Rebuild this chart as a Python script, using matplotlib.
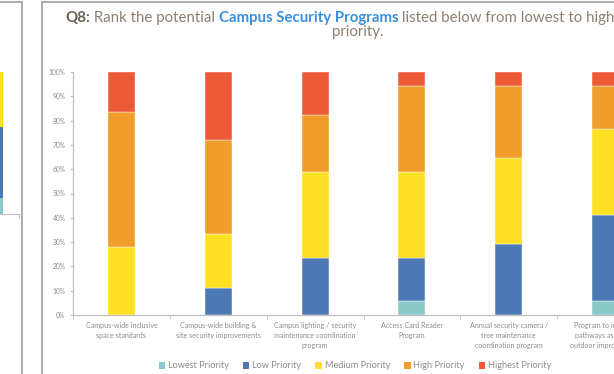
import matplotlib
matplotlib.use("Agg")
import matplotlib.pyplot as plt
from matplotlib.patches import Patch
from matplotlib.lines import Line2D
import numpy as np

W, H = 614, 374
DPI = 100

programs = [
    "Campus-wide inclusive\nspace standards",
    "Campus-wide building &\nsite security improvements",
    "Campus lighting / security\nmaintenance coordination\nprogram",
    "Access Card Reader\nProgram",
    "Annual security camera /\ntree maintenance\ncoordination program",
    "Program to improve\npathways as part of\noutdoor improvements",
]
levels = ["Lowest Priority", "Low Priority", "Medium Priority",
          "High Priority", "Highest Priority"]
colors = ["#8cc9c9", "#4c78b3", "#ffe022", "#f19d2b", "#ee5936"]

# percent of responses per priority level, one value per program
lowest = [0.0, 0.0, 0.0, 5.9, 0.0, 5.9]
low = [0.0, 11.1, 23.5, 17.6, 29.4, 35.3]
medium = [27.8, 22.2, 35.3, 35.3, 35.3, 35.3]
high = [55.6, 38.9, 23.5, 35.3, 29.4, 17.6]
highest = [16.7, 27.8, 17.6, 5.9, 5.9, 5.9]
series = [lowest, low, medium, high, highest]

# cropped neighbouring chart on the far left (one bar visible)
nb_values = [11.3, 50.0, 38.7]
nb_colors = ["#8cc9c9", "#4c78b3", "#ffe022"]

yticks = list(range(0, 101, 10))
ytick_labels = [f"{v}%" for v in yticks]

plt.rcParams["font.family"] = ["Lato", "DejaVu Sans"]
GRAY = "#8c8c8c"
AXIS = "#bfbfbf"
BORDER = "#a6a6a6"


def px(x, y):
    """top-left pixel coords -> figure fraction"""
    return x / W, 1 - y / H


fig = plt.figure(figsize=(W / DPI, H / DPI), dpi=DPI)
fig.patch.set_facecolor("white")

# panel borders
for xs, ys in [((0, 22), (2, 2)), ((22, 22), (2, 380)),
               ((42, 42), (2, 380)), ((42, 620), (2, 2))]:
    fig.add_artist(Line2D([x / W for x in xs], [1 - y / H for y in ys],
                          color=BORDER, lw=1.3, transform=fig.transFigure))

# neighbour fragment
ax0 = fig.add_axes([-41 / W, (H - 214) / H, 60 / W, 142 / H])
bottom = 0
for v, c in zip(nb_values, nb_colors):
    ax0.bar([0], [v], 0.45, bottom=bottom, color=c, lw=0)
    bottom += v
ax0.set_xlim(-0.5, 0.5)
ax0.set_ylim(0, 100)
for s in ["top", "right", "left"]:
    ax0.spines[s].set_visible(False)
ax0.spines["bottom"].set_color(AXIS)
ax0.set_yticks([])
ax0.set_xticks([0.5])
ax0.set_xticklabels([""])
ax0.tick_params(axis="x", length=3, color=AXIS)

# main chart
ax = fig.add_axes([73 / W, 59 / H, 581 / W, 243 / H])
x = np.arange(len(programs))
bottom = np.zeros(len(programs))
for vals, c, lab in zip(series, colors, levels):
    ax.bar(x, vals, 0.28, bottom=bottom, color=c, label=lab,
           edgecolor="white", lw=0.3)
    bottom += np.array(vals)

ax.set_xlim(-0.5, len(programs) - 0.5)
ax.set_ylim(0, 100)
for s in ["top", "right"]:
    ax.spines[s].set_visible(False)
for s in ["left", "bottom"]:
    ax.spines[s].set_color(AXIS)
    ax.spines[s].set_linewidth(0.9)
ax.set_yticks(yticks)
ax.set_yticklabels(ytick_labels, fontsize=4.8, color=GRAY)
ax.tick_params(axis="y", length=2.5, color=AXIS, pad=3)
ax.set_xticks(x)
ax.set_xticklabels(programs, fontsize=5.1, color=GRAY, linespacing=1.5)
ax.tick_params(axis="x", length=0, pad=5)
ax.set_xticks(np.arange(-0.5, len(programs)), minor=True)
ax.tick_params(axis="x", which="minor", length=3, color=AXIS)

handles = [Patch(facecolor=c, edgecolor="none") for c in colors]
fig.legend(handles, levels, loc="center", bbox_to_anchor=px(355, 366),
           ncol=5, frameon=False, fontsize=6.6, labelcolor=GRAY,
           handlelength=0.7, handleheight=0.7, handletextpad=0.3,
           columnspacing=1.55)

# title, built from pieces so that part of it can be blue and bold
renderer = fig.canvas.get_renderer()
pieces = [("Q8:", "bold", "#6a5d50"),
          (" Rank the potential ", "normal", "#8d8073"),
          ("Campus Security Programs", "bold", "#3b8ede"),
          (" listed below from lowest to highest", "normal", "#8d8073")]
cur = 65
for txt, wt, col in pieces:
    t = fig.text(*px(cur, 22), txt, fontsize=10.8, fontweight=wt, color=col,
                 ha="left", va="baseline")
    cur += t.get_window_extent(renderer).width
fig.text(*px(357.5, 36), "priority.", fontsize=10.8, fontweight="normal",
         color="#8d8073", ha="center", va="baseline")

fig.savefig("out.png", dpi=DPI)
